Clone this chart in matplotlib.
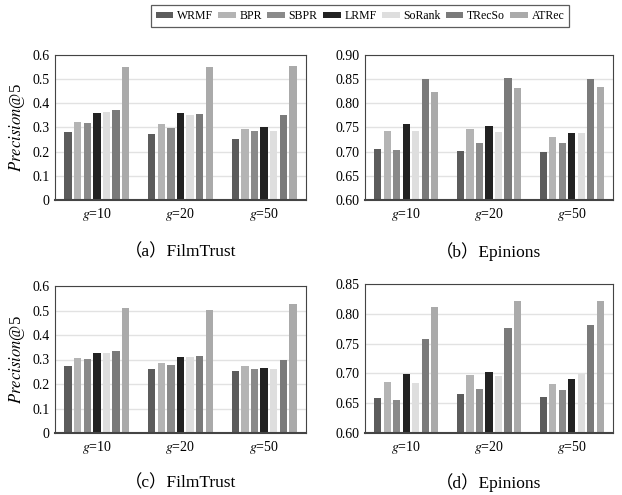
import matplotlib.pyplot as plt
import numpy as np

plt.rcParams['font.family'] = ['Liberation Serif', 'Noto Sans CJK SC']
plt.rcParams['mathtext.fontset'] = 'stix'

methods = ['WRMF', 'BPR', 'SBPR', 'LRMF', 'SoRank', 'TRecSo', 'ATRec']
groups = ['$g$=10', '$g$=20', '$g$=50']
colors = ['#5c5c5c', '#b4b4b4', '#8a8a8a', '#222222', '#dedede', '#7a7a7a', '#aaaaaa']

# rows: methods, cols: g=10, g=20, g=50
film_a = [[0.280, 0.275, 0.251],
          [0.322, 0.313, 0.293],
          [0.320, 0.297, 0.284],
          [0.362, 0.359, 0.300],
          [0.366, 0.350, 0.284],
          [0.372, 0.356, 0.350],
          [0.552, 0.552, 0.555]]
epin_b = [[0.705, 0.702, 0.700],
          [0.743, 0.746, 0.730],
          [0.704, 0.718, 0.718],
          [0.758, 0.753, 0.739],
          [0.743, 0.741, 0.739],
          [0.850, 0.853, 0.851],
          [0.823, 0.831, 0.833]]
film_c = [[0.272, 0.263, 0.252],
          [0.306, 0.284, 0.272],
          [0.301, 0.278, 0.261],
          [0.326, 0.312, 0.266],
          [0.326, 0.312, 0.261],
          [0.335, 0.315, 0.300],
          [0.512, 0.502, 0.526]]
epin_d = [[0.658, 0.665, 0.660],
          [0.685, 0.697, 0.682],
          [0.655, 0.673, 0.672],
          [0.699, 0.702, 0.690],
          [0.684, 0.696, 0.699],
          [0.758, 0.776, 0.781],
          [0.811, 0.821, 0.822]]

panels = [
    (film_a, (0, 0.6), np.arange(0, 0.61, 0.1), '（a）FilmTrust', True, '%g'),
    (epin_b, (0.6, 0.9), np.arange(0.6, 0.901, 0.05), '（b）Epinions', False, '%.2f'),
    (film_c, (0, 0.6), np.arange(0, 0.61, 0.1), '（c）FilmTrust', True, '%g'),
    (epin_d, (0.6, 0.85), np.arange(0.6, 0.851, 0.05), '（d）Epinions', False, '%.2f'),
]
boxes = [
    [55/622, 1-200/495, 251/622, 145/495],
    [365/622, 1-200/495, 248/622, 145/495],
    [55/622, 1-433/495, 251/622, 147/495],
    [365/622, 1-433/495, 248/622, 149/495],
]
title_y = [252, 252, 483, 483]

fig = plt.figure(figsize=(6.22, 4.95), dpi=100)
x = np.arange(len(groups))
pitch = 0.115
bw = 0.088
handles = []
for k, (data, ylim, ticks, title, ylab, fmt) in enumerate(panels):
    ax = fig.add_axes(boxes[k])
    ax.set_axisbelow(True)
    ax.yaxis.grid(True, color='#e2e2e2', linewidth=1.0)
    for i, m in enumerate(methods):
        vals = np.array(data[i])
        b = ax.bar(x + (i - 3) * pitch, vals - ylim[0], bw, bottom=ylim[0],
                   color=colors[i], label=m)
        if k == 0:
            handles.append(b)
    ax.set_ylim(*ylim)
    ax.set_xlim(-0.5, 2.5)
    ax.set_yticks(ticks)
    ax.set_yticklabels([fmt % t if fmt != '%g' else ('%g' % round(t, 1)) for t in ticks],
                       fontsize=10)
    ax.set_xticks(x)
    ax.set_xticklabels(groups, fontsize=10)
    ax.tick_params(length=0, pad=4)
    for s in ['top', 'right', 'left']:
        ax.spines[s].set_color('#444444')
        ax.spines[s].set_linewidth(0.8)
    ax.spines['bottom'].set_color('#444444')
    ax.spines['bottom'].set_linewidth(1.5)
    if ylab:
        ax.set_ylabel('$Precision$@5', fontsize=12, labelpad=4)
    cx = boxes[k][0] + boxes[k][2] / 2
    fig.text(cx, 1 - title_y[k] / 495, title, ha='center', va='center', fontsize=12.5)

leg = fig.legend(handles=handles, labels=methods, loc='center',
                 bbox_to_anchor=(360/622, 1 - 16/495), ncol=7, fontsize=8.5,
                 frameon=True, fancybox=False, edgecolor='#333333',
                 handlelength=1.5, handleheight=0.4, handletextpad=0.3,
                 columnspacing=0.45, borderpad=0.4)
leg.get_frame().set_linewidth(0.9)

plt.savefig('out.png', dpi=100)
